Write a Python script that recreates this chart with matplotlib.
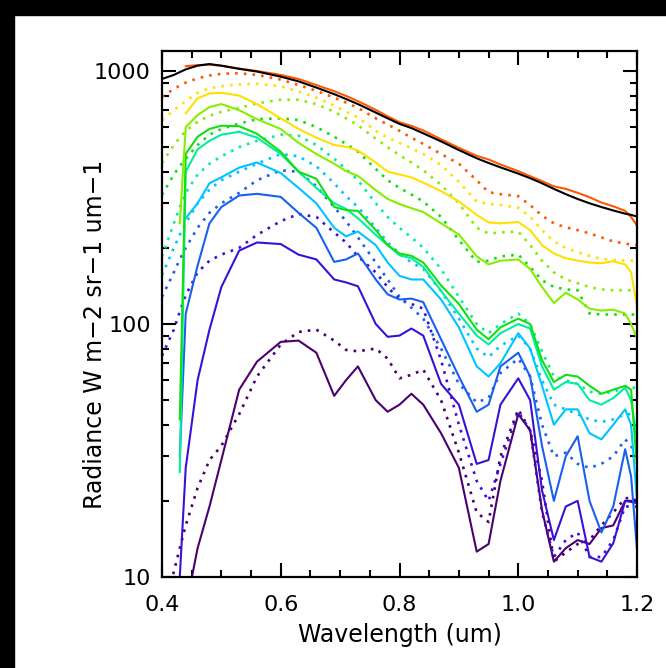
import numpy as np
import matplotlib
matplotlib.use("Agg")
import matplotlib.pyplot as plt
from matplotlib.patches import Rectangle
from matplotlib.ticker import LogLocator, MultipleLocator, NullFormatter

# wavelength grid (um), shared by all spectra; nan = not drawn
wl = [0.40, 0.42, 0.43, 0.44, 0.46, 0.48, 0.50, 0.53, 0.56, 0.60, 0.63, 0.66,
      0.69, 0.71, 0.73, 0.76, 0.78, 0.80, 0.82, 0.84, 0.87, 0.90, 0.93, 0.95,
      0.97, 1.00, 1.02, 1.04, 1.06, 1.08, 1.10, 1.12, 1.14, 1.16, 1.18, 1.19, 1.20]
nan = np.nan

black = [930, 965, 990, 1015, 1050, 1065, 1050, 1020, 995, 950, 910, 860,
         810, 775, 740, 685, 650, 618, 595, 567, 527, 487, 452, 433,
         416, 393, 377, 360, 342, 326, 312, 300, 290, 281, 273, 270, 266]
orange_s = [nan, nan, nan, 1045, 1055, 1060, 1048, 1022, 1000, 965, 930, 880,
            832, 797, 760, 702, 662, 627, 607, 582, 537, 497, 462, 447,
            427, 402, 384, 367, 350, 342, 330, 317, 302, 292, 280, 265, 245]
orange_d = [790, 850, 875, 900, 935, 960, 975, 980, 965, 925, 880, 835,
            785, 750, 715, 650, 615, 580, 545, 515, 470, 430, 370, 332,
            326, 320, 295, 268, 250, 241, 235, 228, 220, 212, 208, 206, 205]
yellow_s = [nan, nan, nan, 680, 780, 815, 820, 800, 740, 650, 590, 545,
            510, 502, 485, 435, 400, 390, 380, 362, 335, 305, 270, 252,
            250, 253, 235, 205, 190, 182, 178, 175, 174, 177, 172, 160, 117]
yellow_d = [640, 700, 730, 760, 820, 855, 870, 885, 890, 870, 830, 785,
            730, 690, 655, 580, 545, 520, 495, 470, 425, 365, 305, 298,
            296, 288, 265, 235, 212, 200, 192, 186, 181, 179, 178, 178, 178]
chart_s = [nan, nan, 250, 600, 670, 720, 740, 700, 645, 590, 520, 470,
           430, 402, 385, 338, 312, 298, 287, 277, 250, 226, 185, 172,
           178, 180, 165, 140, 121, 133, 125, 115, 113, 114, 110, 100, 88]
chart_d = [433, 510, 545, 580, 630, 665, 690, 715, 745, 770, 770, 740,
           690, 650, 610, 540, 500, 465, 435, 405, 355, 300, 240, 228,
           230, 232, 205, 178, 160, 150, 145, 140, 137, 136, 136, 136, 136]
green_s = [nan, nan, 42, 470, 550, 590, 608, 605, 565, 480, 400, 375,
           290, 282, 280, 235, 205, 190, 186, 175, 142, 120, 95, 87,
           97, 105, 100, 72, 59, 63, 62, 57, 53, 55, 57, 55, 27]
green_d = [324, 390, 420, 450, 510, 560, 590, 620, 645, 650, 640, 600,
           550, 515, 480, 410, 370, 345, 325, 305, 265, 215, 176, 178,
           185, 188, 168, 149, 140, 137, 136, 110, 109, 109, 109, 109, 109]
teal_s = [nan, nan, 26, 400, 490, 530, 560, 575, 545, 470, 400, 345,
          300, 285, 262, 225, 205, 187, 182, 168, 135, 110, 90, 83,
          92, 100, 96, 68, 55, 59, 58, 50, 48, 51, 56, 50, 35]
teal_d = [185, 250, 290, 330, 390, 430, 460, 500, 530, 560, 555, 510,
          450, 410, 370, 300, 265, 240, 220, 200, 165, 128, 100, 92,
          100, 110, 100, 78, 62, 60, 58, 54, 53, 54, 56, 56, 56]
cyan_s = [nan, nan, nan, 262, 300, 360, 380, 415, 435, 395, 345, 300,
          240, 222, 232, 205, 175, 155, 150, 150, 125, 97, 68, 62,
          70, 92, 80, 57, 40, 46, 46, 37, 35, 40, 46, 40, 20]
cyan_d = [156, 200, 225, 250, 300, 340, 370, 400, 430, 470, 460, 420,
          360, 320, 290, 240, 210, 190, 175, 165, 135, 105, 80, 74,
          82, 90, 80, 60, 48, 46, 44, 42, 41, 42, 44, 44, 44]
blue_s = [nan, nan, 30, 110, 170, 250, 290, 322, 327, 318, 275, 240,
          176, 180, 190, 150, 131, 125, 126, 122, 87, 62, 45, 48,
          68, 77, 62, 33, 20, 30, 36, 20, 15, 19, 32, 25, 12.8]
blue_d = [128, 160, 180, 200, 240, 275, 300, 330, 370, 405, 400, 350,
          290, 255, 220, 175, 150, 128, 116, 105, 80, 58, 49, 51,
          64, 73, 62, 40, 30, 31, 28, 27, 28, 30, 35, 33, 30]
indigo_s = [nan, nan, 10, 27, 60, 95, 140, 195, 210, 207, 188, 180,
            150, 146, 141, 100, 89, 90, 96, 90, 58, 48, 28, 29,
            48, 61, 50, 22, 14, 19, 20, 12, 11.5, 13.6, 20, 19.8, 19.6]
indigo_d = [75, 95, 112, 130, 160, 178, 188, 200, 225, 255, 272, 265,
            230, 210, 185, 160, 140, 125, 120, 115, 72, 40, 24, 20,
            28, 45, 38, 18, 12, 14, 15, 12, 12, 14, 19, 19, 19]
purple_s = [nan, nan, nan, 7.5, 13, 19, 29, 55, 71, 85, 86, 77,
            52, 60, 68, 50, 45, 48, 53, 48, 37, 27, 12.6, 13.5,
            24, 44, 38, 18.4, 11.5, 13, 14, 13.5, 15.6, 16, 20, 20, 19.6]
purple_d = [7, 10.5, 13, 16, 22.5, 29, 33, 44, 62, 83, 93, 95,
            86, 79, 78, 80, 73, 61, 63, 66, 50, 31, 18, 16.5,
            30, 46, 38, 24, 11.5, 12.5, 13.5, 14, 16, 18, 20.5, 20.5, 20]

colors = {
    "purple": "#4a006e", "indigo": "#3a10d8", "blue": "#1a5ff0",
    "cyan": "#00c4ff", "teal": "#00eea0", "green": "#10e010",
    "chart": "#88ee00", "yellow": "#ffe000", "orange": "#ff5800",
}
series = [
    ("purple", purple_s, purple_d), ("indigo", indigo_s, indigo_d),
    ("blue", blue_s, blue_d), ("cyan", cyan_s, cyan_d),
    ("teal", teal_s, teal_d), ("green", green_s, green_d),
    ("chart", chart_s, chart_d), ("yellow", yellow_s, yellow_d),
    ("orange", orange_s, orange_d),
]

plt.rcParams["font.family"] = "DejaVu Sans"
fig = plt.figure(figsize=(6.66, 6.68), dpi=100)
ax = fig.add_axes([0.2432, 0.1362, 0.7133, 0.7875])

for name, sol, dot in series:
    c = colors[name]
    ax.plot(wl, sol, color=c, lw=1.5)
    ax.plot(wl, dot, color=c, lw=1.9, linestyle=(0, (1, 2.3)))
ax.plot(wl, black, color="black", lw=1.5)

ax.set_yscale("log")
ax.set_xlim(0.4, 1.2)
ax.set_ylim(10, 1200)
ax.xaxis.set_major_locator(MultipleLocator(0.2))
ax.xaxis.set_minor_locator(MultipleLocator(0.05))
ax.yaxis.set_minor_locator(LogLocator(base=10, subs=np.arange(2, 10), numticks=20))
ax.yaxis.set_minor_formatter(NullFormatter())
ax.set_yticks([10, 100, 1000])
ax.set_yticklabels(["10", "100", "1000"])
ax.set_xticks([0.4, 0.6, 0.8, 1.0, 1.2])
ax.set_xticklabels(["0.4", "0.6", "0.8", "1.0", "1.2"])
ax.tick_params(which="both", direction="in", top=True, right=True, width=1.5,
               labelsize=16)
ax.tick_params(axis="x", pad=13)
ax.tick_params(axis="y", pad=8)
ax.tick_params(which="major", length=10)
ax.tick_params(which="minor", length=5)
for s in ax.spines.values():
    s.set_linewidth(1.6)

ax.set_xlabel("Wavelength (um)", fontsize=17, va="center")
ax.xaxis.set_label_coords(0.5, -0.110)
ax.set_ylabel("Radiance W m\u22122 sr\u22121 um\u22121", fontsize=17, va="center")
ax.yaxis.set_label_coords(-0.141, 0.462)

# black frame strips along the top and left edge
fig.patches.append(Rectangle((0, 1 - 15 / 668), 1, 15 / 668, transform=fig.transFigure,
                             color="black", zorder=-1))
fig.patches.append(Rectangle((0, 0), 14 / 666, 1, transform=fig.transFigure,
                             color="black", zorder=-1))

fig.savefig("out.png", dpi=100)
